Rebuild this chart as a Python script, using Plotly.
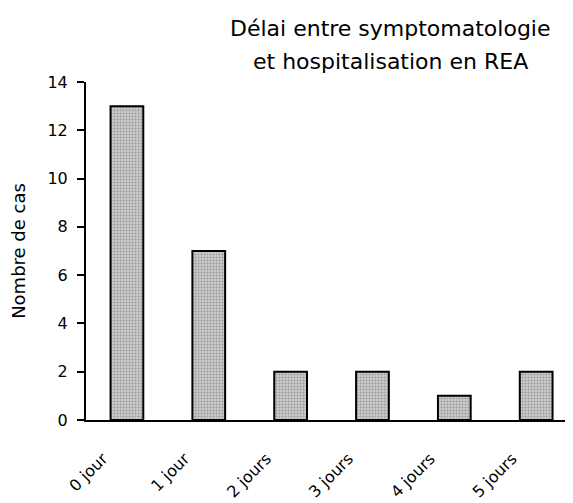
import plotly.graph_objects as go

categories = ["0 jour", "1 jour", "2 jours", "3 jours", "4 jours", "5 jours"]
cases = [13, 7, 2, 2, 1, 2]
y_ticks = [0, 2, 4, 6, 8, 10, 12, 14]
title_lines = ["Délai entre symptomatologie", "et hospitalisation en REA"]

FONT = "DejaVu Sans"

fig = go.Figure(go.Bar(
    x=categories, y=cases, width=0.4,
    marker=dict(color="#b4b4b4", line=dict(color="black", width=2),
                pattern=dict(shape=".", fgcolor="#6a6a6a", bgcolor="#cccccc", size=3, solidity=0.4)),
))

# page body has an 8px margin, so the figure is slightly smaller than the window
fig.update_layout(
    width=565, height=495,
    paper_bgcolor="white", plot_bgcolor="white",
    margin=dict(l=78, r=0, t=74, b=83, autoexpand=False),
    font=dict(family=FONT, size=15, color="black"),
    showlegend=False,
)
for txt, ypos in zip(title_lines, [1.157, 1.062]):
    fig.add_annotation(text=txt, xref="paper", yref="paper", x=0.625, y=ypos,
                       xanchor="center", yanchor="middle", showarrow=False,
                       font=dict(family=FONT, size=22, color="black"))

fig.update_xaxes(
    range=[-0.5, 5.45], showline=True, linecolor="black", linewidth=2,
    ticks="", tickangle=-45, tickfont=dict(family=FONT, size=16),
    ticklabelstandoff=21, ticklabelshift=-24, automargin=False,
    showgrid=False, zeroline=False, fixedrange=True,
)
fig.update_yaxes(
    range=[0, 14], tickvals=y_ticks, showline=True, linecolor="black", linewidth=2,
    ticks="outside", ticklen=7, tickwidth=2, tickcolor="black",
    tickfont=dict(family=FONT, size=16), ticklabelstandoff=6, automargin=False,
    title=dict(text="Nombre de cas", font=dict(family=FONT, size=18), standoff=20),
    showgrid=False, zeroline=False,
)

fig.write_html("out.html")
